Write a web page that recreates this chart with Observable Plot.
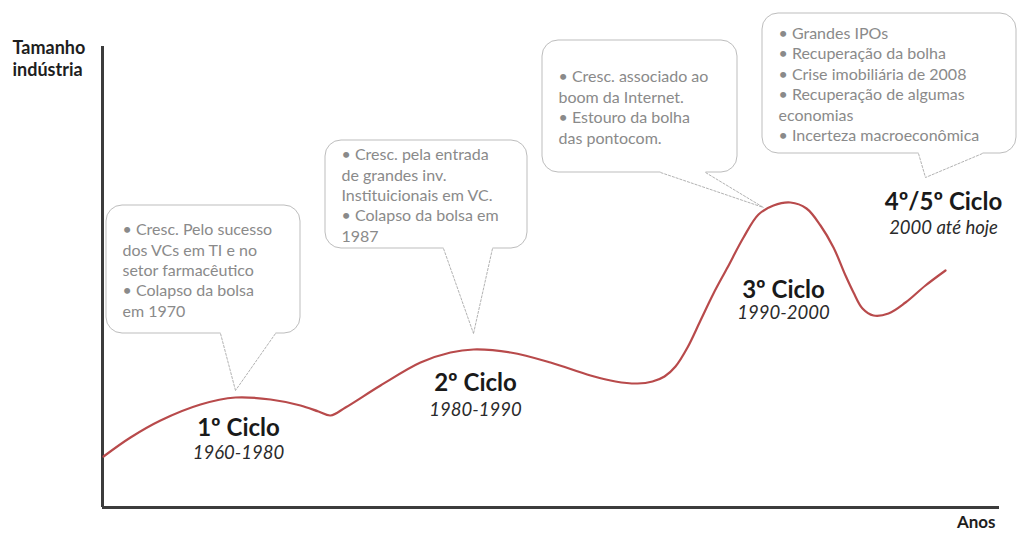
<!DOCTYPE html>
<html>
<head>
<meta charset="utf-8">
<script src="https://cdn.jsdelivr.net/npm/d3@7"></script>
<script src="https://cdn.jsdelivr.net/npm/@observablehq/plot@0.6"></script>
<style>
  html, body { margin: 0; padding: 0; background: #fff; }
  #chart svg { display: block; font-family: Lato, "Open Sans", sans-serif; }
</style>
</head>
<body>
<div id="chart"></div>
<script>
// Conceptual curve: time (abstract units) vs industry size (abstract units)
const curveT = [1, 28, 58, 98, 133, 168, 198, 216, 228, 243, 278, 318, 348, 371, 408, 448, 488, 513, 535, 550, 562, 573, 585, 598, 611, 625, 641, 656, 671, 688, 704, 718, 731, 743, 751, 760, 771, 786, 803, 823, 843];
const curveSize = [51, 70, 87, 103, 110, 108, 102, 96, 92, 100, 122, 145, 155, 158, 155, 145, 132, 126, 124, 126, 131, 141, 160, 187, 214, 240, 270, 293, 302, 305, 299, 282, 260, 232, 215, 199, 192, 194, 205, 222, 237];

// Callout bubbles
const bubbleTexts = [
  ["• Cresc. Pelo sucesso", "dos VCs em TI e no", "setor farmacêutico", "• Colapso da bolsa", "em 1970"],
  ["• Cresc. pela entrada", "de grandes inv.", "Instituicionais em VC.", "• Colapso da bolsa em", "1987"],
  ["• Cresc. associado ao", "boom da Internet.", "• Estouro da bolha", "das pontocom."],
  ["• Grandes IPOs", "• Recuperação da bolha", "• Crise imobiliária de 2008", "• Recuperação de algumas", "economias", "• Incerteza macroeconômica"]
];
const bubbleLeft = [4, 223, 440, 660];
const bubbleRight = [198, 425, 635, 914];
const bubbleTop = [302, 367, 467, 494];
const bubbleBottom = [174, 259, 335, 354];
const tailLeft = [118, 341, 558, 816];
const tailRight = [173, 390, 603, 880];
const tailTipT = [133, 371, 661, 823];
const tailTipSize = [117, 174, 300, 330];

// Cycle labels
const cycleNames = ["1º Ciclo", "2º Ciclo", "3º Ciclo", "4º/5º Ciclo"];
const cyclePeriods = ["1960-1980", "1980-1990", "1990-2000", "2000 até hoje"];
const cycleT = [136, 373, 681, 841];
const cycleNameSize = [79, 124, 217, 305];
const cyclePeriodSize = [54, 97, 194, 279];

const curve = curveT.map((t, i) => ({t, size: curveSize[i]}));
const bubbles = bubbleTexts.map((lines, i) => ({
  text: lines.join("\n"),
  x1: bubbleLeft[i], x2: bubbleRight[i],
  top: bubbleTop[i], bottom: bubbleBottom[i],
  mid: (bubbleTop[i] + bubbleBottom[i]) / 2,
  tl: tailLeft[i], tr: tailRight[i],
  tipT: tailTipT[i], tipS: tailTipSize[i]
}));
const cycles = cycleNames.map((name, i) => ({
  name, period: cyclePeriods[i], t: cycleT[i], ny: cycleNameSize[i], py: cyclePeriodSize[i]
}));

const chart = Plot.plot({
  width: 1019,
  height: 534,
  marginLeft: 102,
  marginRight: 20,
  marginTop: 47,
  marginBottom: 27,
  x: {domain: [0, 897], axis: null},
  y: {domain: [0, 460], axis: null},
  marks: [
    // axes
    Plot.ruleX([0], {y1: 0, y2: 461, stroke: "#3c3c3c", strokeWidth: 3}),
    Plot.ruleY([0], {x1: 0, x2: 897, stroke: "#3c3c3c", strokeWidth: 3}),
    Plot.text(["Tamanho\nindústria"], {x: -90, y: 450, text: d => d, textAnchor: "start", lineAnchor: "middle", lineHeight: 1.22, fontSize: 18, fontWeight: "bold", fill: "#1e1e1e"}),
    Plot.text(["Anos"], {x: 893, y: -15, text: d => d, textAnchor: "end", fontSize: 17, fontWeight: "bold", fill: "#1e1e1e"}),
    // bubbles
    Plot.rect(bubbles, {x1: "x1", x2: "x2", y1: "bottom", y2: "top", fill: "white", stroke: "#bdbdbd", strokeWidth: 1, rx: 16}),
    Plot.link(bubbles, {x1: "tl", x2: "tr", y1: "bottom", y2: "bottom", stroke: "white", strokeWidth: 3}),
    Plot.link(bubbles, {x1: "tl", y1: "bottom", x2: "tipT", y2: "tipS", stroke: "#a9a9a9", strokeWidth: 0.9, strokeDasharray: "3,1"}),
    Plot.link(bubbles, {x1: "tr", y1: "bottom", x2: "tipT", y2: "tipS", stroke: "#a9a9a9", strokeWidth: 0.9, strokeDasharray: "3,1"}),
    Plot.text(bubbles, {x: "x1", y: "mid", text: "text", dx: 16, textAnchor: "start", lineAnchor: "middle", lineHeight: 1.275, fontSize: 16, fill: "#8a8a8a"}),
    // curve
    Plot.line(curve, {x: "t", y: "size", curve: "catmull-rom", stroke: "#b84a4b", strokeWidth: 2.2}),
    // cycle labels
    Plot.text(cycles, {x: "t", y: "ny", text: "name", fontSize: 24, fontWeight: "bold", fill: "#1a1a1a"}),
    Plot.text(cycles, {x: "t", y: "py", text: "period", fontSize: 18.5, fontStyle: "italic", fill: "#2b2b2b"})
  ]
});
document.getElementById("chart").appendChild(chart);
</script>
</body>
</html>
